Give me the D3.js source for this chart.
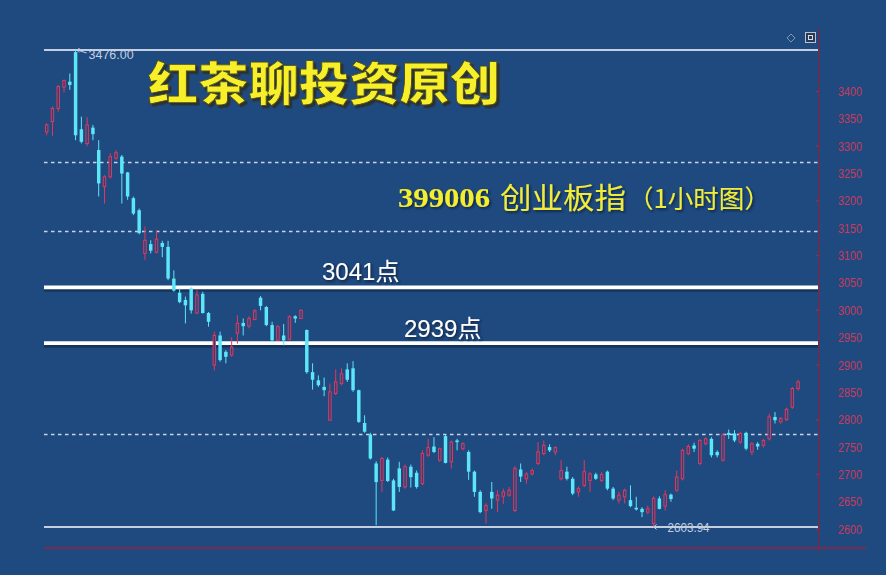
<!DOCTYPE html>
<html><head><meta charset="utf-8">
<script src="https://cdn.jsdelivr.net/npm/d3@7"></script>
<style>html,body{margin:0;padding:0;background:#1e4a7f;}svg{display:block;}</style>
</head><body>
<svg id="chart" width="886" height="575"></svg>
<script>
// ---- data (1-hour candles, 399006) ----
const opens  = [3326,3345,3369,3408,3418,3472,3331,3305,3334,3293,3226,3244,3278,3281,3252,3205,3183,3104,3121,3106,3123,3116,3058,3032,3019,3040,2995,3030,2995,2900,2954,2924,2918,2958,2977,2971,2983,3023,3006,2973,2945,2954,2947,2989,2985,2964,2887,2872,2860,2799,2848,2866,2892,2894,2854,2794,2773,2720,2689,2727,2689,2711,2677,2714,2703,2683,2735,2751,2726,2770,2723,2762,2747,2741,2705,2668,2634,2668,2653,2660,2662,2634,2709,2692,2701,2720,2738,2750,2741,2692,2705,2692,2668,2680,2689,2700,2689,2705,2674,2653,2659,2653,2639,2637,2631,2610,2656,2642,2663,2671,2692,2738,2753,2720,2756,2765,2741,2726,2776,2775,2759,2776,2741,2756,2753,2765,2805,2796,2800,2823,2857];
const highs  = [3342,3373,3412,3422,3433,3476,3354,3353,3339,3311,3247,3287,3293,3284,3253,3208,3186,3153,3128,3146,3127,3127,3073,3040,3025,3042,3038,3034,2997,2961,2961,2927,2951,2991,2985,2989,3002,3026,3008,2979,2973,2975,2991,2991,3002,2965,2903,2881,2877,2866,2892,2894,2903,2907,2855,2808,2776,2724,2732,2731,2692,2723,2718,2718,2707,2744,2765,2768,2749,2772,2762,2765,2759,2744,2707,2671,2647,2686,2671,2674,2677,2715,2720,2704,2711,2759,2762,2755,2751,2726,2714,2695,2678,2726,2704,2703,2704,2707,2677,2668,2674,2680,2659,2640,2643,2660,2660,2671,2665,2707,2747,2755,2758,2765,2768,2768,2744,2775,2782,2781,2778,2778,2759,2759,2765,2811,2814,2805,2822,2860,2873];
const lows   = [3320,3319,3363,3398,3403,3311,3305,3300,3311,3208,3195,3241,3275,3195,3202,3174,3139,3092,3104,3104,3097,3055,3034,3013,2976,2994,2993,2994,2970,2890,2906,2903,2915,2939,2954,2967,2982,3000,2971,2942,2945,2936,2945,2977,2984,2884,2855,2860,2843,2798,2845,2863,2869,2851,2794,2776,2727,2607,2668,2686,2633,2668,2674,2676,2674,2680,2732,2739,2723,2720,2711,2744,2744,2690,2659,2629,2610,2637,2631,2646,2659,2631,2686,2683,2698,2717,2735,2741,2735,2689,2689,2662,2659,2677,2668,2690,2686,2671,2653,2647,2647,2640,2634,2622,2627,2603.94,2636,2634,2650,2668,2689,2735,2741,2717,2753,2731,2731,2723,2765,2759,2756,2744,2735,2745,2749,2762,2793,2793,2798,2820,2853];
const closes = [3339,3369,3409,3420,3412,3320,3308,3339,3322,3232,3244,3281,3288,3250,3208,3177,3141,3128,3109,3130,3116,3058,3036,3015,3009,3000,3028,2995,2979,2954,2909,2915,2933,2976,2971,2985,2999,3008,2973,2945,2970,2945,2988,2985,3000,2887,2873,2863,2854,2851,2869,2884,2873,2854,2796,2778,2729,2686,2729,2688,2634,2677,2714,2695,2677,2738,2749,2741,2747,2721,2759,2759,2756,2705,2668,2631,2643,2656,2662,2668,2671,2711,2696,2701,2707,2741,2753,2744,2749,2707,2692,2665,2674,2705,2701,2692,2700,2674,2656,2662,2671,2642,2636,2631,2637,2656,2637,2663,2655,2695,2744,2751,2747,2762,2765,2735,2735,2772,2772,2762,2775,2747,2756,2751,2762,2805,2799,2802,2819,2857,2869];
const yTicks = [3400,3350,3300,3250,3200,3150,3100,3050,3000,2950,2900,2850,2800,2750,2700,2650,2600];
const dashedLevels = [3272, 3145, 2773];
const keyLevels = [3041, 2939];
const keyLabels = ["3041点", "2939点"];
const highLabel = "3476.00", lowLabel = "2603.94";
const highValue = 3476, lowValue = 2603.94;
const title = "红茶聊投资原创";
const subtitleCode = "399006", subtitleName = "创业板指", subtitleTail = "（1小时图）";

// ---- build ----
const candles = opens.map((o,i)=>({i, o, h:highs[i], l:lows[i], c:closes[i]}));
const svg = d3.select("#chart");
const BG = "#1e4a7f";
const UP = "#e8365a", DOWN = "#5ce6f8";
const plotL = 44, plotR = 818, axisX = 819;

const defs = svg.append("defs");
defs.append("filter").attr("id","shTxt").attr("x","-10%").attr("y","-30%").attr("width","120%").attr("height","160%")
  .append("feDropShadow").attr("dx",1.5).attr("dy",1.5).attr("stdDeviation",0.8)
  .attr("flood-color","#0a1a30").attr("flood-opacity",0.8);
defs.append("filter").attr("id","shTitle").attr("x","-10%").attr("y","-30%").attr("width","120%").attr("height","160%")
  .append("feDropShadow").attr("dx",2.5).attr("dy",2.5).attr("stdDeviation",0.6)
  .attr("flood-color","#2e2e26").attr("flood-opacity",0.9);

svg.append("rect").attr("width",886).attr("height",575).attr("fill",BG);

const x = d3.scaleBand().domain(candles.map(d=>d.i)).range([43.8, 801]).paddingInner(0.4).paddingOuter(0.2);
const y = d3.scaleLinear().domain([2600, 3400]).range([529.1, 91.5]);
const cx = i => x(i) + x.bandwidth()/2;

// dashed levels
svg.append("g").selectAll("line").data(dashedLevels).join("line")
  .attr("x1",plotL).attr("x2",plotR).attr("y1",d=>Math.round(y(d))+0.5).attr("y2",d=>Math.round(y(d))+0.5)
  .attr("stroke","#c9d3e6").attr("stroke-width",1.6).attr("stroke-dasharray","3.5,3.5");

// extreme lines
[highValue, lowValue].forEach(v=>{
  svg.append("line").attr("x1",plotL).attr("x2",plotR).attr("y1",y(v)).attr("y2",y(v))
    .attr("stroke","#c5cfe0").attr("stroke-width",2);
});

// key white lines with shadow
const kl = svg.append("g");
kl.selectAll("line.sh").data(keyLevels).join("line").attr("class","sh")
  .attr("x1",plotL).attr("x2",plotR).attr("y1",d=>y(d)+2.5).attr("y2",d=>y(d)+2.5)
  .attr("stroke","#0f2746").attr("stroke-opacity",0.6).attr("stroke-width",3);
kl.selectAll("line.w").data(keyLevels).join("line").attr("class","w")
  .attr("x1",plotL).attr("x2",plotR).attr("y1",d=>y(d)-0.5).attr("y2",d=>y(d)-0.5)
  .attr("stroke","#ffffff").attr("stroke-width",3.6);

// candles
const g = svg.append("g");
const bw = x.bandwidth();
candles.forEach(d=>{
  const up = d.c >= d.o;
  const col = up ? UP : DOWN;
  const top = y(Math.max(d.o,d.c)), bot = y(Math.min(d.o,d.c));
  const xc = cx(d.i);
  if (up) {
    g.append("line").attr("x1",xc).attr("x2",xc).attr("y1",y(d.h)).attr("y2",top).attr("stroke",col).attr("stroke-width",1);
    g.append("line").attr("x1",xc).attr("x2",xc).attr("y1",bot).attr("y2",y(d.l)).attr("stroke",col).attr("stroke-width",1);
    g.append("rect").attr("x",x(d.i)+0.5).attr("y",top).attr("width",bw-1).attr("height",Math.max(1,bot-top))
      .attr("fill",BG).attr("stroke",col).attr("stroke-width",1);
  } else {
    g.append("line").attr("x1",xc).attr("x2",xc).attr("y1",y(d.h)).attr("y2",y(d.l)).attr("stroke",col).attr("stroke-width",1);
    g.append("rect").attr("x",x(d.i)).attr("y",top).attr("width",bw).attr("height",Math.max(1.2,bot-top)).attr("fill",col);
  }
});

// high / low markers
const hi = candles.find(d=>d.h===highValue), lo = candles.find(d=>d.l===lowValue);
const hx = cx(hi.i), hy = y(highValue);
svg.append("path").attr("d",`M${hx+11},${hy+3} L${hx+1},${hy} M${hx+1},${hy} l3,-1.5 M${hx+1},${hy} l2.5,2.5`)
  .attr("stroke","#c5cfe0").attr("fill","none").attr("stroke-width",1);
svg.append("text").attr("x",hx+13).attr("y",hy+9).text(highLabel)
  .attr("font-family","Liberation Sans, Arial, sans-serif").attr("font-size",12).attr("fill","#c5cfe0")
  .attr("textLength",45).attr("lengthAdjust","spacingAndGlyphs");
const lx = cx(lo.i), ly = y(lowValue);
svg.append("path").attr("d",`M${lx},${ly} L${lx+12},${ly} M${lx},${ly} l3,-2.5 M${lx},${ly} l3,2.5`)
  .attr("stroke","#c5cfe0").attr("fill","none").attr("stroke-width",1);
svg.append("text").attr("x",lx+14).attr("y",ly+5).text(lowLabel)
  .attr("font-family","Liberation Sans, Arial, sans-serif").attr("font-size",12).attr("fill","#c5cfe0")
  .attr("textLength",42).attr("lengthAdjust","spacingAndGlyphs");

// key labels
const klx = [322, 404], kdy = [-8, -7];
keyLabels.forEach((t,k)=>{
  svg.append("text").attr("x",klx[k]).attr("y",y(keyLevels[k]) + kdy[k]).text(t)
    .attr("font-family","Liberation Sans, Noto Sans CJK SC, sans-serif")
    .attr("font-size",24).attr("fill","#ffffff").attr("filter","url(#shTxt)");
});

// right axis
svg.append("line").attr("x1",axisX).attr("x2",axisX).attr("y1",28).attr("y2",552).attr("stroke","#6e2c52").attr("stroke-width",1.6);
svg.append("line").attr("x1",plotL).attr("x2",866).attr("y1",548).attr("y2",548).attr("stroke","#7a2c50").attr("stroke-width",2);
const axisG = svg.append("g");
axisG.selectAll("line").data(yTicks.filter(v=>v%100===0)).join("line")
  .attr("x1",axisX-3).attr("x2",axisX).attr("y1",d=>y(d)).attr("y2",d=>y(d)).attr("stroke","#8a3058").attr("stroke-width",1.5);
axisG.selectAll("text").data(yTicks).join("text")
  .attr("x",838).attr("y",d=>y(d)+4.5).text(d=>d)
  .attr("font-family","Liberation Sans, Arial, sans-serif").attr("font-size",13).attr("fill","#c93a5e")
  .attr("textLength",24).attr("lengthAdjust","spacingAndGlyphs");

// top-right icons
svg.append("path").attr("d","M791,34 L795,38 L791,42 L787,38 Z").attr("fill","none").attr("stroke","#7f93b3").attr("stroke-width",1);
svg.append("rect").attr("x",805.5).attr("y",32.5).attr("width",10).attr("height",10).attr("fill","#2a3a55").attr("stroke","#b8c2d4").attr("stroke-width",1);
svg.append("rect").attr("x",808.5).attr("y",35.5).attr("width",4).attr("height",4).attr("fill","none").attr("stroke","#d8dee8").attr("stroke-width",1);

// title (decorative)
svg.append("text").attr("x",148).attr("y",100).text(title)
  .attr("font-family","Noto Sans CJK SC, sans-serif").attr("font-weight",900).attr("font-size",46)
  .attr("textLength",352).attr("lengthAdjust","spacingAndGlyphs")
  .attr("fill","#f6ef2a").attr("stroke","#4a4a1c").attr("stroke-width",0.8).attr("filter","url(#shTitle)");

// subtitle
const sub = svg.append("g").attr("filter","url(#shTxt)");
sub.append("text").attr("x",398).attr("y",207).text(subtitleCode)
  .attr("font-family","Liberation Serif, serif").attr("font-weight","bold").attr("font-size",27)
  .attr("textLength",92).attr("lengthAdjust","spacingAndGlyphs").attr("fill","#f3ee2e");
sub.append("text").attr("x",500).attr("y",209).text(subtitleName)
  .attr("font-family","Noto Sans CJK SC, sans-serif").attr("font-weight",400).attr("font-size",29)
  .attr("textLength",126).attr("lengthAdjust","spacingAndGlyphs").attr("fill","#f0ec3a");
sub.append("text").attr("x",628).attr("y",208).text(subtitleTail)
  .attr("font-family","Noto Sans CJK SC, sans-serif").attr("font-weight",400).attr("font-size",25)
  .attr("textLength",142).attr("lengthAdjust","spacingAndGlyphs").attr("fill","#f0ec3a");
</script>
</body></html>
